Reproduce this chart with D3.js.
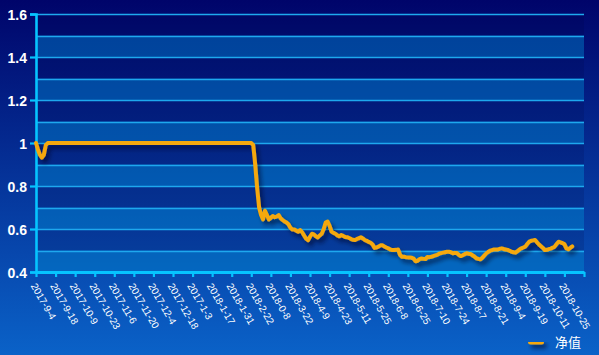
<!DOCTYPE html>
<html><head><meta charset="utf-8">
<script src="https://cdn.jsdelivr.net/npm/d3@7"></script>
<style>html,body{margin:0;padding:0;background:#000a6b;}svg{display:block;}</style>
</head><body>
<svg id="c" width="599" height="355"></svg>
<script>
// tick labels (one every 10 trading days)
const tickLabels = ["2017-9-4","2017-9-18","2017-10-9","2017-10-23","2017-11-6","2017-11-20","2017-12-4","2017-12-18","2017-1-3","2018-1-17","2018-1-31","2018-2-22","2018-0-8","2018-3-22","2018-4-9","2018-4-23","2018-5-11","2018-5-25","2018-6-8","2018-6-25","2018-7-10","2018-7-24","2018-8-7","2018-8-21","2018-9-4","2018-9-19","2018-10-11","2018-10-25"];
const labelStep = 10;
const axisCount = 280; // number of day intervals spanned by the x axis
const yTicks = [0.4, 0.6, 0.8, 1.0, 1.2, 1.4, 1.6];
const yGrid = [0.5, 0.6, 0.7, 0.8, 0.9, 1.0, 1.1, 1.2, 1.3, 1.4, 1.5, 1.6];
const seriesName = "净值";
// net value per trading day
const netValue = [
1, 0.97, 0.945, 0.932, 0.945, 0.99,
1,1,1,1,1,1,1,1,1,1,
1,1,1,1,1,1,1,1,1,1,
1,1,1,1,1,1,1,1,1,1,
1,1,1,1,1,1,1,1,1,1,
1,1,1,1,1,1,1,1,1,1,
1,1,1,1,1,1,1,1,1,1,
1,1,1,1,1,1,1,1,1,1,
1,1,1,1,1,1,1,1,1,1,
1,1,1,1,1,1,1,1,1,1,
1,1,1,1,1,1,1,1,1,1,
1,1,1,1,1,
0.99, 0.9, 0.79, 0.70, 0.665, 0.645, 0.685, 0.665, 0.645,
0.652, 0.66, 0.655, 0.658, 0.665, 0.65, 0.642, 0.635, 0.63, 0.622,
0.606, 0.598, 0.598, 0.592, 0.587, 0.595, 0.585, 0.57, 0.555, 0.548,
0.564, 0.578, 0.575, 0.566, 0.561, 0.57, 0.578, 0.6, 0.63, 0.635,
0.615, 0.588, 0.582, 0.578, 0.57, 0.566, 0.572, 0.568, 0.563, 0.562,
0.558, 0.553, 0.55, 0.549, 0.554, 0.557, 0.562, 0.556, 0.549, 0.545,
0.54, 0.536, 0.528, 0.512, 0.514, 0.518, 0.524, 0.524, 0.519, 0.514,
0.51, 0.505, 0.502, 0.502, 0.503, 0.505, 0.48, 0.471, 0.471, 0.469,
0.468, 0.468, 0.466, 0.462, 0.45, 0.452, 0.46, 0.463, 0.461, 0.46,
0.47, 0.469, 0.471, 0.474, 0.477, 0.48, 0.485, 0.488, 0.49, 0.492,
0.494, 0.494, 0.492, 0.487, 0.489, 0.488, 0.48, 0.474, 0.478, 0.483,
0.487, 0.485, 0.484, 0.478, 0.472, 0.464, 0.461, 0.459, 0.466, 0.476,
0.486, 0.493, 0.499, 0.502, 0.505, 0.505, 0.505, 0.508, 0.51, 0.507,
0.505, 0.503, 0.499, 0.494, 0.492, 0.49, 0.497, 0.505, 0.51, 0.514,
0.518, 0.53, 0.541, 0.545, 0.547, 0.549, 0.538, 0.528, 0.52, 0.512,
0.502, 0.503, 0.506, 0.509, 0.513, 0.518, 0.53, 0.541, 0.538, 0.534,
0.53, 0.51, 0.506, 0.512, 0.519
];

const W = 599, H = 355;
const M = {left: 36, right: 584, top: 14, bottom: 272};
const svg = d3.select("#c");
const defs = svg.append("defs");

const bg = defs.append("linearGradient").attr("id","bg").attr("x1",0).attr("y1",0).attr("x2",0).attr("y2",1);
bg.append("stop").attr("offset","0%").attr("stop-color","#00046a");
bg.append("stop").attr("offset","100%").attr("stop-color","#0a62c8");

const sh = defs.append("filter").attr("id","shadow").attr("filterUnits","userSpaceOnUse")
  .attr("x",0).attr("y",0).attr("width",W).attr("height",H);
sh.append("feDropShadow").attr("dx",3).attr("dy",4).attr("stdDeviation",2).attr("flood-color","#000020").attr("flood-opacity",0.55);

svg.append("rect").attr("width",W).attr("height",H).attr("fill","url(#bg)");

const x = d3.scaleLinear().domain([0, axisCount]).range([M.left, M.right]);
const y = d3.scaleLinear().domain([0.4, 1.6]).range([M.bottom, M.top]);

// split areas (alternating bands every 0.1)
const bands = d3.range(0, 12).map(i => ({lo: 0.4 + i * 0.1, hi: 0.5 + i * 0.1, i}));
svg.append("g").selectAll("rect").data(bands).join("rect")
  .attr("x", M.left).attr("width", M.right - M.left)
  .attr("y", d => y(d.hi)).attr("height", d => y(d.lo) - y(d.hi))
  .attr("fill", d => d.i % 2 === 0 ? "rgba(0,140,210,0.42)" : "rgba(0,0,60,0.14)");

// grid lines
svg.append("g").selectAll("line").data(yGrid).join("line")
  .attr("x1", M.left).attr("x2", M.right)
  .attr("y1", d => Math.round(y(d)) + 0.5).attr("y2", d => Math.round(y(d)) + 0.5)
  .attr("stroke", "#1ea8ee").attr("stroke-width", 1.3);

// y axis
const yAxis = d3.axisLeft(y).tickValues(yTicks).tickSize(6).tickFormat(d => d3.format("")(+d.toFixed(1)));
const gy = svg.append("g").attr("transform", `translate(${M.left},0)`).call(yAxis);
gy.select(".domain").attr("stroke", "#06c4ff").attr("stroke-width", 2.6);
gy.selectAll(".tick line").attr("stroke", "#06c4ff").attr("stroke-width", 2.2);
gy.selectAll(".tick text").attr("fill", "#fff").attr("font-family", "Liberation Sans, Arial, sans-serif")
  .attr("font-size", 14).attr("font-weight", "bold").attr("x", -9).attr("dy", "0.36em");

// x axis
const xTickVals = d3.range(0, axisCount + 1, labelStep);
const xAxis = d3.axisBottom(x).tickValues(xTickVals).tickSize(5).tickSizeOuter(0)
  .tickFormat(d => tickLabels[d / labelStep] || "");
const gx = svg.append("g").attr("transform", `translate(0,${M.bottom})`).call(xAxis);
gx.select(".domain").attr("stroke", "#06c4ff").attr("stroke-width", 3);
gx.selectAll(".tick line").attr("stroke", "#06c4ff").attr("stroke-width", 2.2);
gx.selectAll(".tick text").attr("fill", "#fff").attr("font-family", "Liberation Sans, Arial, sans-serif")
  .attr("font-size", 10).attr("text-anchor", "start")
  .attr("y", 0).attr("dy", 0)
  .attr("transform", "translate(-3,12) rotate(60)")
  .attr("dominant-baseline", "central");

// line
const line = d3.line().x((d, i) => x(i)).y(d => y(d));
svg.append("path").datum(netValue).attr("d", line)
  .attr("fill", "none").attr("stroke", "#f5a80a").attr("stroke-width", 4)
  .attr("stroke-linejoin", "round").attr("stroke-linecap", "round")
  .attr("filter", "url(#shadow)");

// legend
const lg = svg.append("g").attr("transform", "translate(528,342)");
lg.append("rect").attr("x", 0).attr("y", -2.5).attr("width", 16).attr("height", 5).attr("rx", 2.5)
  .attr("fill", "#f5a80a").attr("filter", "url(#shadow)");
lg.append("text").attr("x", 27).attr("y", 0).attr("dy", "0.36em").text(seriesName)
  .attr("fill", "#fff").attr("font-size", 13).attr("font-family", "Noto Sans CJK SC, sans-serif");
</script>
</body></html>
